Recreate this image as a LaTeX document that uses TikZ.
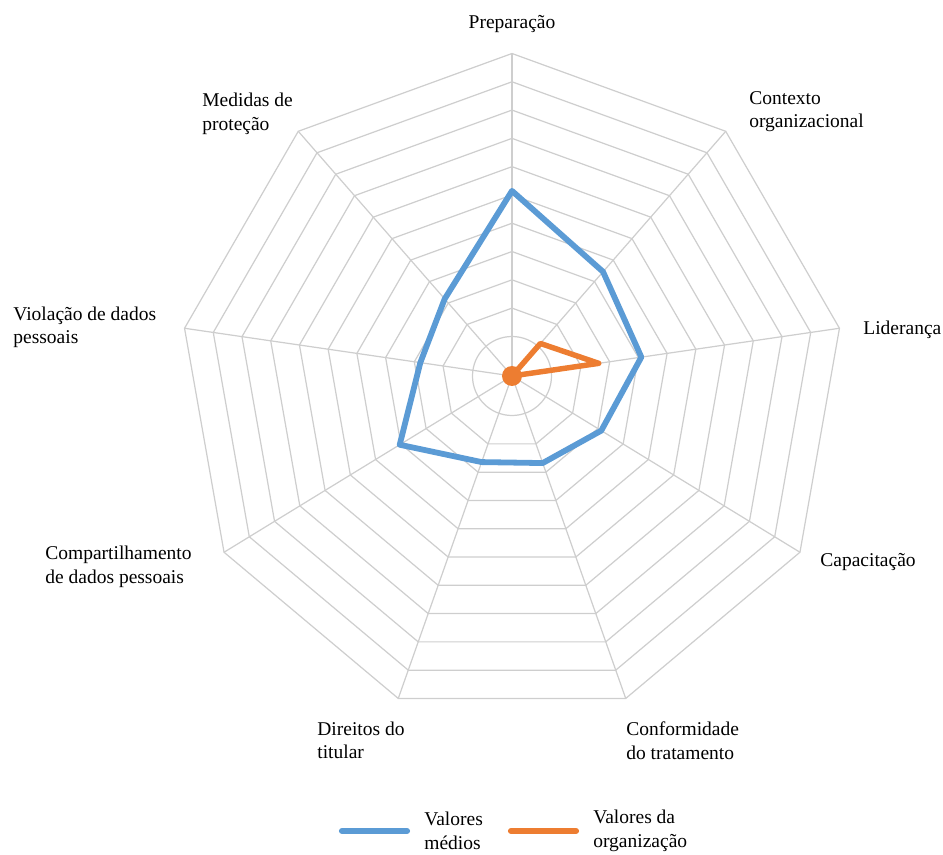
\documentclass[tikz,border=0pt]{standalone}
\usepackage{fontspec}
\setmainfont{Liberation Serif}
\usepackage{tikz}
\usetikzlibrary{calc}
\definecolor{Medio}{RGB}{91,155,213}
\definecolor{Org}{RGB}{237,125,49}
\definecolor{Grade}{RGB}{206,206,206}
\newcommand{\RadarRing}[1]{% scale factor of the ring
\draw[line width=0.7pt,Grade] ($#1*(v0)$) \foreach \i in {1,...,8}{-- ($#1*(v\i)$)} -- cycle;
}
\newcommand{\AxisLabel}[3]{% name, position, text
\node[anchor=west,align=left,inner sep=0pt] (#1) at (#2) {#3};
}
\begin{document}
\begin{tikzpicture}[x=0.02cm,y=0.02cm,font=\fontsize{11.1}{13.4}\selectfont]
\useasboundingbox (-512,-479) rectangle (431,376);
\coordinate (P) at (0,0);
% outer nonagon sits a little below the hub
\foreach \i in {0,...,8}
  \coordinate (v\i) at ($(0,-10)+(90-40*\i:332.5)$);
% grid
\draw[line width=0.7pt,Grade] (P) circle (39.5);
\foreach \k in {1,...,10}{
  \pgfmathsetmacro{\f}{(\k+1.4)/11.4}
  \RadarRing{\f}
}
\foreach \i in {0,...,8}
  \draw[line width=0.7pt,Grade] (P) -- (v\i);
% valores medios
\foreach \v [count=\i from 0] in {0.574,0.426,0.395,0.31,0.27,0.267,0.39,0.28,0.315}
  \coordinate (m\i) at ($\v*(v\i)$);
\draw[line width=3.3pt,Medio,line join=round]
  (m0) -- (m1) -- (m2) -- (m3) -- (m4) -- (m5) -- (m6) -- (m7) -- (m8) -- cycle;
% valores da organizacao
\coordinate (o1) at ($0.133*(v1)$);
\coordinate (o2) at ($0.265*(v2)$);
\draw[line width=3.1pt,Org,line join=round] (P) -- (o1) -- (o2) -- cycle;
\fill[Org] (P) circle (10);
% axis labels
\node[inner sep=0pt] (prep) at (0,352) {Preparação};
\AxisLabel{cont}{237,264.5}{Contexto\\organizacional}
\AxisLabel{lid}{351,46}{Liderança}
\AxisLabel{cap}{308,-186}{Capacitação}
\AxisLabel{conf}{114,-364.5}{Conformidade\\do tratamento}
\AxisLabel{dir}{-195,-364.5}{Direitos do\\titular}
\AxisLabel{comp}{-467,-191}{Compartilhamento\\de dados pessoais}
\AxisLabel{viol}{-499,48.5}{Violação de dados\\pessoais}
\AxisLabel{med}{-310,262}{Medidas de\\proteção}
% legend
\coordinate (la) at (-170,-455);
\coordinate (lb) at (-105,-455);
\draw[line width=3.5pt,Medio,line cap=round] (la) -- (lb);
\AxisLabel{lmed}{-88,-455}{Valores\\médios}
\coordinate (lc) at (-1,-455);
\coordinate (ld) at (64,-455);
\draw[line width=3.5pt,Org,line cap=round] (lc) -- (ld);
\AxisLabel{lorg}{81,-455}{Valores da\\organização}
\end{tikzpicture}
\end{document}
